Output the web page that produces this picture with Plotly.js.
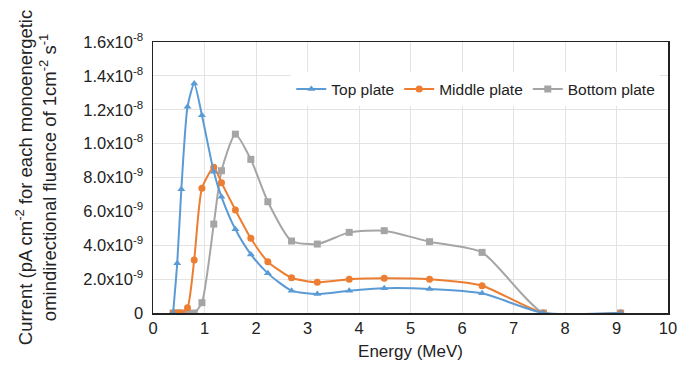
<!DOCTYPE html>
<html><head><meta charset="utf-8">
<script src="https://cdn.plot.ly/plotly-3.0.1.min.js"></script>
<style>body{margin:0;background:#fff}#c{width:689px;height:367px}</style>
</head><body><div id="c"></div>
<script>
const energy = [0.39, 0.47, 0.55, 0.67, 0.80, 0.95, 1.18, 1.33, 1.60, 1.90, 2.23, 2.69, 3.19, 3.81, 4.49, 5.37, 6.39, 7.58, 9.08];
const topPlate    = [0, 2.93e-9, 7.30e-9, 12.17e-9, 13.55e-9, 11.68e-9, 8.34e-9, 6.86e-9, 4.94e-9, 3.46e-9, 2.34e-9, 1.32e-9, 1.12e-9, 1.32e-9, 1.46e-9, 1.42e-9, 1.16e-9, 0, 0];
const middlePlate = [0, 0, 0, 0.31e-9, 3.13e-9, 7.36e-9, 8.60e-9, 7.69e-9, 6.08e-9, 4.41e-9, 3.03e-9, 2.08e-9, 1.81e-9, 1.99e-9, 2.05e-9, 1.99e-9, 1.61e-9, 0, 0];
const bottomPlate = [0, 0, 0, 0, 0, 0.61e-9, 5.25e-9, 8.40e-9, 10.56e-9, 9.07e-9, 6.57e-9, 4.25e-9, 4.07e-9, 4.76e-9, 4.86e-9, 4.21e-9, 3.58e-9, 0, 0];
const seriesNames = ["Top plate", "Middle plate", "Bottom plate"];
const yTickVals = [0, 2e-9, 4e-9, 6e-9, 8e-9, 1e-8, 1.2e-8, 1.4e-8, 1.6e-8];
const yTickText = ["0", "2.0x10<sup>-9</sup>", "4.0x10<sup>-9</sup>", "6.0x10<sup>-9</sup>", "8.0x10<sup>-9</sup>", "1.0x10<sup>-8</sup>", "1.2x10<sup>-8</sup>", "1.4x10<sup>-8</sup>", "1.6x10<sup>-8</sup>"];
const xTickVals = [0,1,2,3,4,5,6,7,8,9,10];

const colors = ["#5B9BD5", "#ED7D31", "#A5A5A5"];
const symbols = ["triangle-up", "circle", "square"];
const data = [topPlate, middlePlate, bottomPlate].map((ys, i) => ({
  x: energy, y: ys, name: seriesNames[i], type: "scatter", mode: "lines+markers",
  line: {color: colors[i], width: 2, shape: "spline", smoothing: 0.6},
  marker: {color: colors[i], symbol: symbols[i], size: 7}
})).reverse();

const font = {family: "Liberation Sans", color: "#222"};
const layout = {
  width: 689, height: 367,
  margin: {l: 153, r: 21, t: 42, b: 54},
  paper_bgcolor: "#fff", plot_bgcolor: "#fff",
  font: Object.assign({size: 16}, font),
  showlegend: true,
  legend: {orientation: "h", x: 0.985, xanchor: "right", y: 0.825, yanchor: "middle",
           bgcolor: "#fff", font: {size: 15.5}, traceorder: "reversed", itemwidth: 30},
  xaxis: {range: [0, 10], tickvals: xTickVals, showgrid: true, gridcolor: "#e3e3e3",
          zeroline: false, showline: true, linecolor: "#222", linewidth: 1.5, mirror: true,
          ticks: "", tickfont: {size: 16.5}, title: {text: "Energy (MeV)", font: {size: 17}, standoff: 9}},
  yaxis: {range: [0, 1.6e-8], tickvals: yTickVals, ticktext: yTickText, showgrid: true, gridcolor: "#e3e3e3",
          zeroline: false, showline: true, linecolor: "#222", linewidth: 1.5, mirror: true,
          ticks: "", tickfont: {size: 16.5}, ticklabelstandoff: 5,
          title: {text: "Current (pA cm<sup>-2</sup> for each monoenergetic<br>omindirectional fluence of 1cm<sup>-2</sup> s<sup>-1</sup>", font: {size: 18.5}, standoff: 22}}
};
Plotly.newPlot("c", data, layout, {staticPlot: true});
</script></body></html>
